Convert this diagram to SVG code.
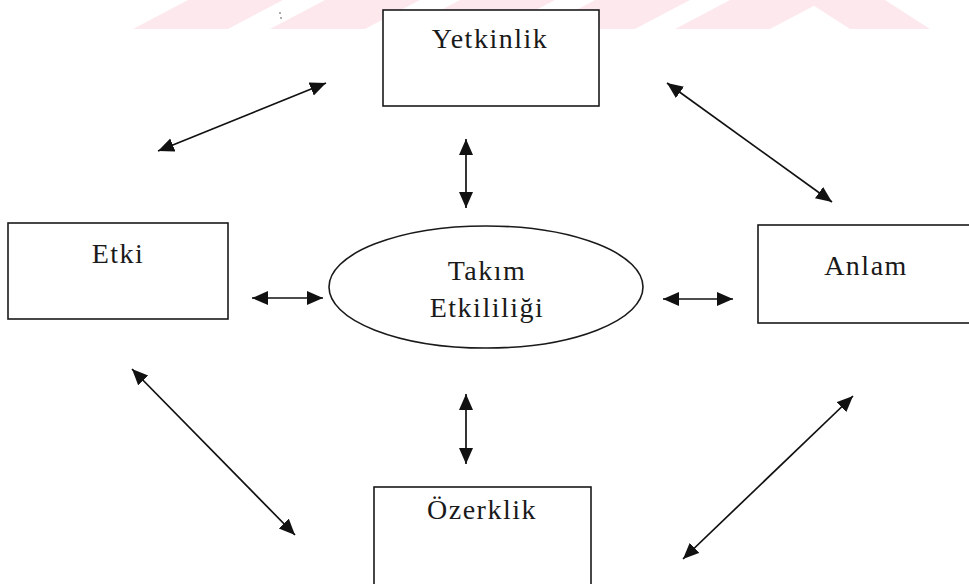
<svg xmlns="http://www.w3.org/2000/svg" width="969" height="584" viewBox="0 0 969 584">
<style>
.box{fill:#fff;stroke:#1a1a1a;stroke-width:1.6}
.lbl{font-family:"Liberation Serif","Times New Roman",serif;font-size:28px;letter-spacing:1.5px;fill:#1a1a1a;text-anchor:middle}
.con{stroke:#111;stroke-width:1.7;fill:none;marker-start:url(#ah);marker-end:url(#ah)}
.wm{fill:#fde9ed}
</style>
<defs>
<marker id="ah" markerUnits="userSpaceOnUse" markerWidth="18" markerHeight="15" refX="16" refY="7" orient="auto-start-reverse">
<path d="M0,0 L16,7 L0,14 z" fill="#111"/>
</marker>
</defs>
<g id="watermark">
<polygon class="wm" points="133,29 228,29 283,0 188,0"/>
<polygon class="wm" points="270,29 365,29 420,0 325,0"/>
<polygon class="wm" points="405,29 500,29 555,0 460,0"/>
<polygon class="wm" points="540,29 635,29 690,0 595,0"/>
<polygon class="wm" points="675,29 770,29 825,0 730,0"/>
<polygon class="wm" points="850,29 930,29 885,0 805,0"/>
<circle cx="280" cy="13" r="0.9" fill="#888"/>
<circle cx="281" cy="18" r="0.9" fill="#888"/>
</g>
<g id="connectors">
<line class="con" x1="466" y1="139" x2="466" y2="208"/>
<line class="con" x1="466" y1="394" x2="466" y2="464"/>
<line class="con" x1="252" y1="298" x2="323" y2="298"/>
<line class="con" x1="663" y1="299" x2="733" y2="299"/>
<line class="con" x1="158" y1="151" x2="326" y2="83"/>
<line class="con" x1="667" y1="83" x2="832" y2="202"/>
<line class="con" x1="132" y1="369" x2="295" y2="535"/>
<line class="con" x1="853" y1="396" x2="683" y2="559"/>
</g>
<g id="yetkinlik">
<rect class="box" x="383" y="10" width="216" height="96"/>
<text class="lbl" x="490" y="48">Yetkinlik</text>
</g>
<g id="etki">
<rect class="box" x="8" y="223" width="220" height="96"/>
<text class="lbl" x="118" y="263">Etki</text>
</g>
<g id="takim">
<ellipse class="box" cx="486" cy="287" rx="157" ry="61"/>
<text class="lbl" x="487" y="280">Takım</text>
<text class="lbl" x="487" y="317">Etkililiği</text>
</g>
<g id="anlam">
<rect class="box" x="758" y="225" width="220" height="98"/>
<text class="lbl" x="866" y="275">Anlam</text>
</g>
<g id="ozerklik">
<rect class="box" x="374" y="487" width="217" height="110"/>
<text class="lbl" x="482" y="519">Özerklik</text>
</g>
</svg>
